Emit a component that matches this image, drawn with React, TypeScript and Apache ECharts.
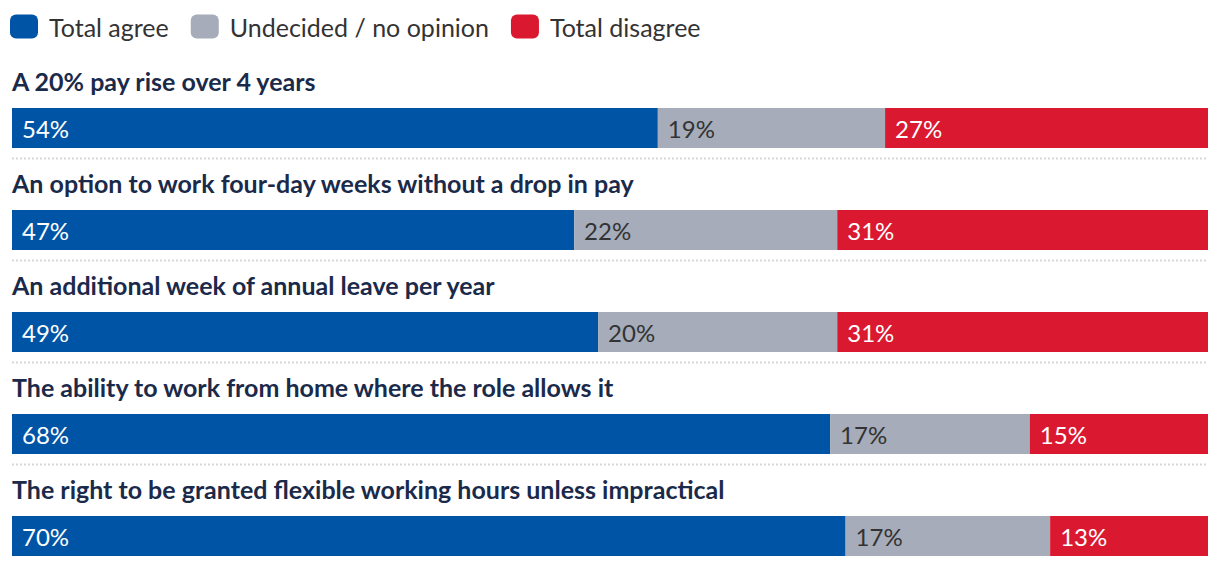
import React, { useEffect, useRef } from "react";
import * as echarts from "echarts";

const categories = [
  "A 20% pay rise over 4 years",
  "An option to work four-day weeks without a drop in pay",
  "An additional week of annual leave per year",
  "The ability to work from home where the role allows it",
  "The right to be granted flexible working hours unless impractical",
];
const seriesNames = ["Total agree", "Undecided / no opinion", "Total disagree"];
const agree = [54, 47, 49, 68.4, 69.7];
const undecided = [19, 22, 20, 16.7, 17.1];
const disagree = [27, 31, 31, 14.9, 13.2];

const COLORS = ["#0054a6", "#a6acb9", "#da1931"];
const LABEL_COLORS = ["#ffffff", "#333333", "#ffffff"];
const FONT = "Lato, 'Noto Sans', sans-serif";

export default function App() {
  const ref = useRef<HTMLDivElement>(null);
  useEffect(() => {
    if (!ref.current) return;
    const chart = echarts.init(ref.current, undefined, { renderer: "svg" });
    const values = [agree, undecided, disagree];
    const n = categories.length;
    const rowStep = 102;
    const barTop = 108;
    const grids = categories.map((_, i) => ({
      left: 12,
      right: 12,
      top: barTop + i * rowStep,
      height: 40,
    }));
    const xAxes = categories.map((_, i) => ({
      type: "value",
      gridIndex: i,
      min: 0,
      max: 100,
      show: false,
    }));
    const yAxes = categories.map((c, i) => ({
      type: "category",
      gridIndex: i,
      data: [c],
      show: false,
    }));
    const series: any[] = [];
    categories.forEach((_, i) => {
      values.forEach((vals, s) => {
        series.push({
          type: "bar",
          name: seriesNames[s],
          xAxisIndex: i,
          yAxisIndex: i,
          stack: "row" + i,
          barWidth: 40,
          data: [vals[i]],
          itemStyle: { color: COLORS[s] },
          label: {
            show: true,
            position: "insideLeft",
            distance: 10,
            color: LABEL_COLORS[s],
            fontFamily: FONT,
            fontSize: 24,
            formatter: (p: any) => Math.round(p.value) + "%",
          },
        });
      });
    });
    const titles = categories.map((c, i) => ({
      text: c,
      left: 12,
      top: 68 + i * rowStep,
      padding: 0,
      textStyle: {
        fontFamily: FONT,
        fontSize: 25,
        fontWeight: "bold",
        color: "#1b2a4a",
      },
    }));
    const lines = [];
    for (let i = 0; i < n - 1; i++) {
      const y = 158.5 + i * rowStep;
      lines.push({
        type: "line",
        shape: { x1: 12, y1: y, x2: 1208, y2: y },
        style: { stroke: "#d8d8d8", lineWidth: 2, lineDash: [2, 2] },
        silent: true,
      });
    }
    chart.setOption({
      animation: false,
      title: titles,
      legend: {
        left: 10,
        top: 14,
        itemWidth: 28,
        itemHeight: 24,
        itemGap: 22,
        icon: "roundRect",
        padding: 0,
        data: seriesNames,
        selectedMode: false,
        textStyle: {
          fontFamily: FONT,
          fontSize: 25,
          color: "#333333",
          padding: [0, 0, 0, 6],
        },
      },
      grid: grids,
      xAxis: xAxes,
      yAxis: yAxes,
      series,
      graphic: lines,
    });
    return () => chart.dispose();
  }, []);
  return (
    <div
      ref={ref}
      style={{ position: "fixed", left: 0, top: 0, width: 1220, height: 566, background: "#fff" }}
    />
  );
}
